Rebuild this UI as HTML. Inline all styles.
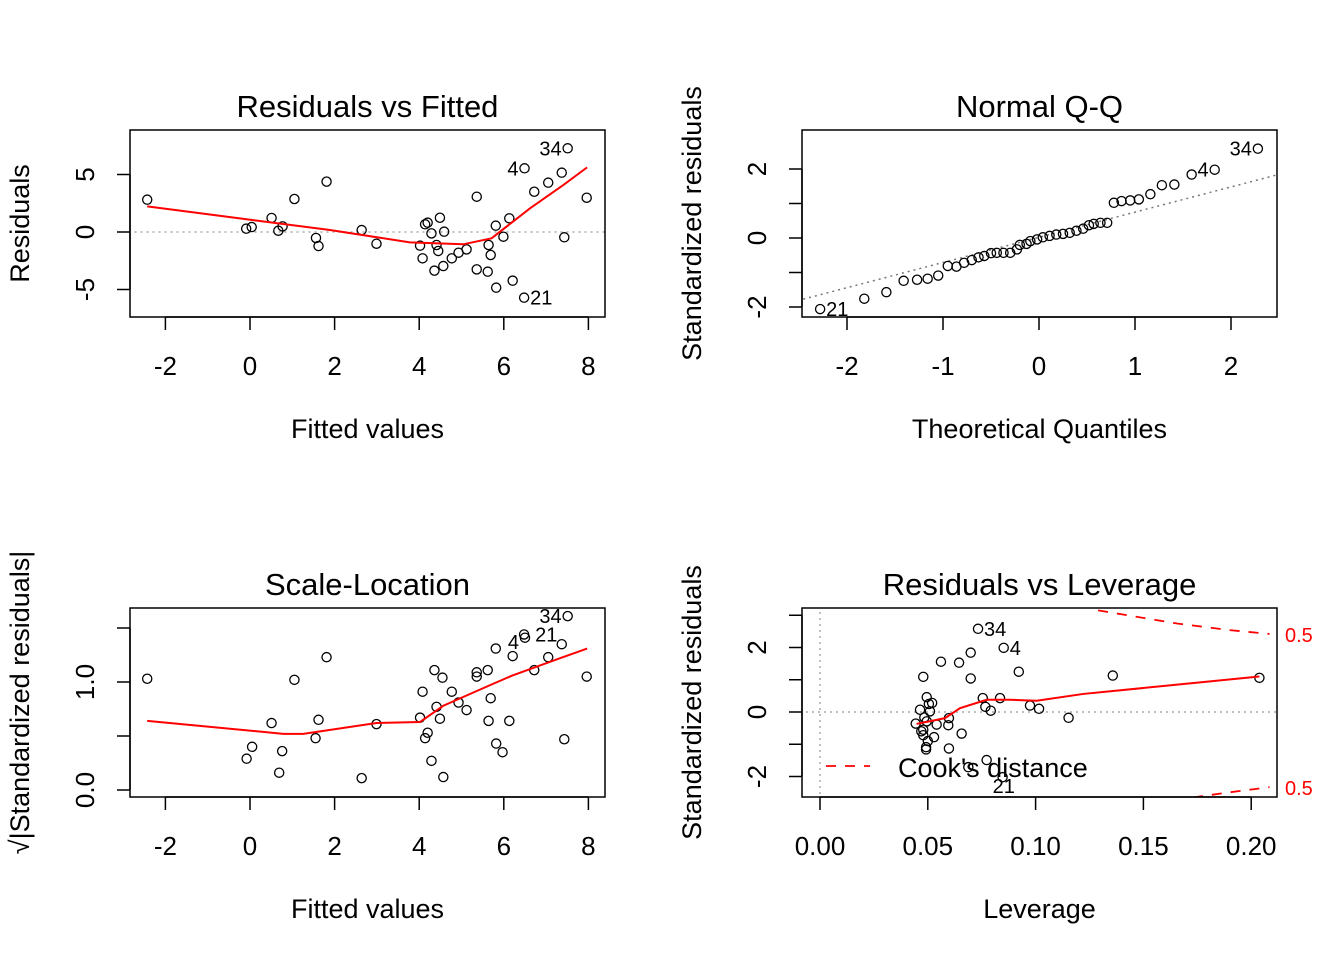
<!DOCTYPE html>
<html><head><meta charset="utf-8">
<style>
html,body{margin:0;padding:0;background:#fff;}
svg{display:block;font-family:"Liberation Sans",Arial,sans-serif;}
</style></head>
<body>
<svg id="chart" width="1344" height="960" viewBox="0 0 1344 960" xmlns="http://www.w3.org/2000/svg"></svg>
<script>
// ---- Panel 1: Residuals vs Fitted ----
const rfFitted = [-2.43,-0.09,0.04,0.51,0.67,0.77,1.05,1.81,1.56,1.62,2.64,2.99,4.02,4.08,4.14,4.2,4.29,4.49,4.59,4.41,4.45,4.36,4.57,4.77,4.93,5.12,5.36,5.36,5.62,5.64,5.69,5.81,5.82,5.99,6.13,6.21,6.48,6.49,6.72,7.05,7.37,7.51,7.43,7.96];
const rfResid = [2.81,0.29,0.43,1.22,0.11,0.49,2.87,4.38,-0.52,-1.22,0.17,-1.02,-1.19,-2.29,0.67,0.81,-0.12,1.24,0.03,-1.13,-1.65,-3.36,-2.96,-2.29,-1.8,-1.51,3.07,-3.25,-3.45,-1.13,-2,0.55,-4.84,-0.41,1.19,-4.23,-5.71,5.54,3.5,4.29,5.16,7.28,-0.46,2.98];
const rfSmoothX = [-2.43,-0.06,1.89,3.78,5.04,5.71,6.62,7.41,7.97];
const rfSmoothY = [2.23,1.1,0.17,-0.9,-1.07,-0.55,2.06,4.09,5.62];
const rfXTicks = [-2,0,2,4,6,8];
const rfYTicks = [-5,0,5];
const rfLabels = [["34",7.51,7.28],["4",6.49,5.54],["21",6.48,-5.71]];

// ---- Panel 2: Normal Q-Q ----
const qqTheo = [-2.28,-1.82,-1.59,-1.41,-1.27,-1.16,-1.05,-0.95,-0.86,-0.78,-0.7,-0.63,-0.57,-0.5,-0.44,-0.37,-0.3,-0.23,-0.2,-0.13,-0.09,-0.02,0.04,0.11,0.18,0.25,0.32,0.39,0.46,0.52,0.57,0.64,0.71,0.78,0.86,0.95,1.04,1.16,1.28,1.41,1.59,1.83,2.28];
const qqStd = [-2.06,-1.76,-1.57,-1.24,-1.21,-1.18,-1.09,-0.81,-0.83,-0.72,-0.64,-0.56,-0.52,-0.44,-0.43,-0.43,-0.43,-0.33,-0.2,-0.17,-0.09,-0.04,0.02,0.06,0.1,0.12,0.15,0.21,0.27,0.37,0.41,0.44,0.44,1.02,1.07,1.09,1.12,1.27,1.53,1.55,1.84,1.98,2.59];
const qqLine = [0.02,0.73]; // intercept, slope
const qqXTicks = [-2,-1,0,1,2];
const qqYTicks = [-2,-1,0,1,2,3];
const qqYLabels = [-2,0,2];
const qqLabels = [["34",2.28,2.59],["4",1.83,1.98],["21",-2.28,-2.06]];

// ---- Panel 3: Scale-Location ----
const slFitted = [-2.43,-0.08,0.05,0.51,0.69,0.76,1.05,1.81,1.55,1.62,2.64,2.99,4.02,4.08,4.14,4.2,4.29,4.36,4.41,4.49,4.57,4.55,4.77,4.93,5.12,5.36,5.36,5.62,5.64,5.69,5.81,5.82,5.97,6.13,6.21,6.48,6.5,6.72,7.05,7.37,7.51,7.43,7.96];
const slSqrt = [1.03,0.29,0.4,0.62,0.16,0.36,1.02,1.23,0.48,0.65,0.11,0.61,0.67,0.91,0.48,0.53,0.27,1.11,0.77,0.66,0.12,1.04,0.91,0.81,0.74,1.09,1.05,1.11,0.64,0.85,1.31,0.43,0.35,0.64,1.24,1.44,1.41,1.11,1.23,1.35,1.61,0.47,1.05];
const slSmoothX = [-2.43,0.79,1.26,2.99,4.02,4.57,5.67,6.2,7.33,7.97];
const slSmoothY = [0.64,0.52,0.52,0.62,0.63,0.78,0.97,1.06,1.22,1.31];
const slXTicks = [-2,0,2,4,6,8];
const slYTicks = [0,0.5,1,1.5];
const slYLabels = [[0,"0.0"],[1,"1.0"]];
const slLabels = [["34",7.51,1.61],["21",6.6,1.44],["4",6.5,1.37]];

// ---- Panel 4: Residuals vs Leverage ----
const lvLev = [0.0733,0.0852,0.0699,0.0561,0.0645,0.0479,0.0699,0.0922,0.1358,0.2038,0.0495,0.052,0.0464,0.0755,0.0835,0.0767,0.0792,0.0974,0.1016,0.1153,0.0598,0.0444,0.0495,0.0541,0.0595,0.0479,0.0479,0.0529,0.0657,0.0492,0.0492,0.0598,0.0773,0.0688,0.0847,0.0484,0.0505,0.051,0.047,0.05];
const lvStd = [2.58,1.99,1.84,1.56,1.53,1.09,1.04,1.25,1.13,1.06,0.46,0.28,0.07,0.43,0.43,0.16,0.04,0.2,0.1,-0.18,-0.19,-0.36,-0.29,-0.39,-0.41,-0.55,-0.72,-0.78,-0.67,-1.09,-1.16,-1.13,-1.49,-1.71,-2.02,-0.17,0.25,0.02,-0.6,-0.9];
const lvSmoothX = [0.0448,0.058,0.0649,0.0773,0.0881,0.1005,0.1221,0.2038];
const lvSmoothY = [-0.37,-0.19,0.12,0.38,0.38,0.35,0.56,1.1];
const lvXTicks = [0,0.05,0.1,0.15,0.2];
const lvXTickLabels = ["0.00","0.05","0.10","0.15","0.20"];
const lvYTicks = [-3,-2,-1,0,1,2,3];
const lvYLabels = [-2,0,2];
const lvLabels = [["34",0.0733,2.58],["4",0.0852,1.99],["21",0.0773,-2.3]];
const cookTopX = [0.129,0.166,0.19,0.2085];
const cookTopY = [3.15,2.74,2.54,2.42];
const cookBotX = [0.173,0.19,0.2085];
const cookBotY = [-2.65,-2.49,-2.33];

const NS="http://www.w3.org/2000/svg";
const svg=document.getElementById('chart');
function mk(tag,attrs,parent,text){const e=document.createElementNS(NS,tag);for(const k in attrs)e.setAttribute(k,attrs[k]);if(text!==undefined)e.textContent=text;(parent||svg).appendChild(e);return e;}

function panel(o){
  const g=mk('g',{});
  
  
  const X=v=>o.x0+(v-o.xv0)*o.xs, Y=v=>o.y0-(v-o.yv0)*o.ys;
  const t=mk('text',{x:(o.L+o.R)/2,y:o.T-13,'text-anchor':'middle','font-size':31},g,o.title);
  
  
  const cid='clip'+o.id;
  const cp=mk('clipPath',{id:cid},g);mk('rect',{x:o.L,y:o.T,width:o.R-o.L,height:o.B-o.T},cp);
  const inner=mk('g',{'clip-path':'url(#'+cid+')'},g);
  if(o.inner)o.inner(inner,X,Y);
  for(let i=0;i<o.px.length;i++){
    const c=mk('circle',{cx:X(o.px[i]),cy:Y(o.py[i]),r:4.6,fill:'none',stroke:'#000','stroke-width':1.3},inner);
    
    
  }
  if(o.sx){
    const p=mk('polyline',{points:o.sx.map((v,i)=>X(v)+','+Y(o.sy[i])).join(' '),fill:'none',stroke:'#ff0000','stroke-width':2},inner);
    
    
  }
  o.labels.forEach(l=>{
    const left=o.labelLeft&&l[0]!=='21';
    const tx=mk('text',{x:X(l[1])+(left?-6:6),y:Y(l[2])+7,'text-anchor':left?'end':'start','font-size':20},g,l[0]);
    
    
  });
  const b=mk('rect',{x:o.L,y:o.T,width:o.R-o.L,height:o.B-o.T,fill:'none',stroke:'#000','stroke-width':1.5},g);
  
  
  const xa=mk('g',{},g);
  
  
  mk('line',{x1:X(o.xt[0]),x2:X(o.xt[o.xt.length-1]),y1:o.B,y2:o.B,stroke:'#000','stroke-width':1.5},xa);
  o.xt.forEach((v,i)=>{
    mk('line',{x1:X(v),x2:X(v),y1:o.B,y2:o.B+13,stroke:'#000','stroke-width':1.5},xa);
    mk('text',{x:X(v),y:o.B+58,'text-anchor':'middle','font-size':26},xa,o.xtl?o.xtl[i]:String(v));
  });
  const xl=mk('text',{x:(o.L+o.R)/2,y:o.B+121,'text-anchor':'middle','font-size':27},g,o.xlab);
  
  
  const ya=mk('g',{},g);
  
  
  mk('line',{x1:o.L,x2:o.L,y1:Y(o.yt[0]),y2:Y(o.yt[o.yt.length-1]),stroke:'#000','stroke-width':1.5},ya);
  o.yt.forEach(v=>mk('line',{x1:o.L-13,x2:o.L,y1:Y(v),y2:Y(v),stroke:'#000','stroke-width':1.5},ya));
  o.yl.forEach(l=>{
    const v=Array.isArray(l)?l[0]:l, s=Array.isArray(l)?l[1]:String(l);
    mk('text',{x:0,y:0,'text-anchor':'middle','font-size':26,transform:`translate(${o.L-36},${Y(v)}) rotate(-90)`},ya,s);
  });
  const yl=mk('text',{x:0,y:0,'text-anchor':'middle','font-size':27,transform:`translate(${o.L-101},${(o.T+o.B)/2}) rotate(-90)`},g,o.ylab);
  
  
  return {g,X,Y};
}

function hline(g,X,Y,x1,x2,yv){mk('line',{x1:X(x1),x2:X(x2),y1:Y(yv),y2:Y(yv),stroke:'#aaa','stroke-width':1.5,'stroke-dasharray':'2,4'},g);}

panel({id:1,name:'residuals-vs-fitted-panel',L:130,R:605,T:130,B:317,x0:250,xv0:0,xs:42.3,y0:232,yv0:0,ys:11.5,
  title:'Residuals vs Fitted',xlab:'Fitted values',ylab:'Residuals',px:rfFitted,py:rfResid,sx:rfSmoothX,sy:rfSmoothY,
  xt:rfXTicks,yt:rfYTicks,yl:rfYTicks,labels:rfLabels,labelLeft:true,
  inner:(g,X,Y)=>hline(g,X,Y,-5,10,0)});

panel({id:2,name:'normal-qq-panel',L:802,R:1277,T:130,B:317,x0:1039,xv0:0,xs:96,y0:238,yv0:0,ys:34.5,
  title:'Normal Q-Q',xlab:'Theoretical Quantiles',ylab:'Standardized residuals',px:qqTheo,py:qqStd,
  xt:qqXTicks,yt:qqYTicks.filter(v=>v<=2),yl:qqYLabels,labels:qqLabels,labelLeft:true,
  inner:(g,X,Y)=>{const l=mk('line',{x1:X(-3),x2:X(3),y1:Y(qqLine[0]-3*qqLine[1]),y2:Y(qqLine[0]+3*qqLine[1]),stroke:'#777','stroke-width':1.5,'stroke-dasharray':'2,4'},g);
    
    }});

panel({id:3,name:'scale-location-panel',L:130,R:605,T:608,B:797,x0:250,xv0:0,xs:42.3,y0:790,yv0:0,ys:108,
  title:'Scale-Location',xlab:'Fitted values',ylab:'\u221A|Standardized residuals|',px:slFitted,py:slSqrt,sx:slSmoothX,sy:slSmoothY,
  xt:slXTicks,yt:slYTicks,yl:slYLabels,labels:slLabels,labelLeft:true});

const p4=panel({id:4,name:'residuals-vs-leverage-panel',L:802,R:1277,T:608,B:797,x0:820,xv0:0,xs:2156,y0:712,yv0:0,ys:32.25,
  title:'Residuals vs Leverage',xlab:'Leverage',ylab:'Standardized residuals',px:lvLev,py:lvStd,sx:lvSmoothX,sy:lvSmoothY,
  xt:lvXTicks,xtl:lvXTickLabels,yt:lvYTicks.filter(v=>v>=-2&&v<=3),yl:lvYLabels,labels:lvLabels,labelLeft:false,
  inner:(g,X,Y)=>{hline(g,X,Y,-1,1,0);
    mk('line',{x1:X(0),x2:X(0),y1:600,y2:800,stroke:'#aaa','stroke-width':1.5,'stroke-dasharray':'2,4'},g);
    [[cookTopX,cookTopY],[cookBotX,cookBotY]].forEach(c=>{
      const p=mk('polyline',{points:c[0].map((v,i)=>X(v)+','+Y(c[1][i])).join(' '),fill:'none',stroke:'#ff0000','stroke-width':1.8,'stroke-dasharray':'10,9'},g);
      
      
    });}});
[[cookTopY[cookTopY.length-1]],[cookBotY[cookBotY.length-1]]].forEach(v=>{
  const t=mk('text',{x:1285,y:p4.Y(v[0])+8,'font-size':20,fill:'#ff0000'},svg,'0.5');
  
  
});
const lg=mk('g',{});


mk('line',{x1:826,x2:870,y1:766,y2:766,stroke:'#ff0000','stroke-width':1.8,'stroke-dasharray':'10,9'},lg);
mk('text',{x:898,y:777,'font-size':27},lg,"Cook's distance");
</script>
</body></html>
